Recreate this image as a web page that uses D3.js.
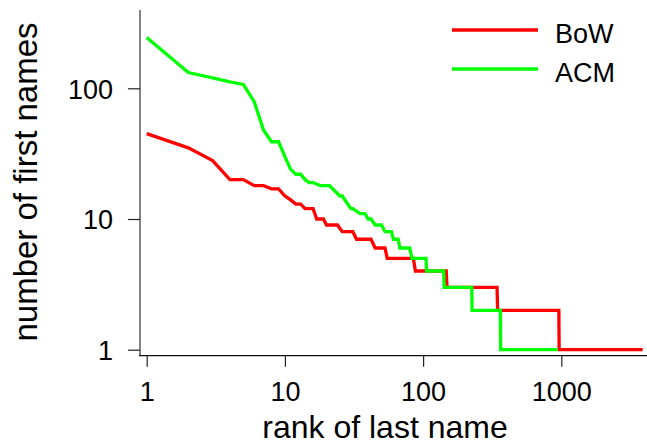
<!DOCTYPE html>
<html>
<head>
<meta charset="utf-8">
<script src="https://cdn.jsdelivr.net/npm/d3@7"></script>
<style>
  body { margin: 0; background: #fff; }
  svg { display: block; font-family: "Liberation Sans", Arial, sans-serif; }
</style>
</head>
<body>
<div id="chart"></div>
<script>
// rank / count vertices (each run of equal counts keeps its first and last rank)
const bowRank  = [1, 2, 3, 4, 5, 6, 7, 8, 9, 10, 11, 12, 13, 14, 16, 17, 19, 20, 24, 26, 31, 33, 42, 45, 53, 55, 85, 88, 147, 149, 343, 346, 960, 965, 3880];
const bowCount = [45, 35, 28, 20, 20, 18, 18, 17, 17, 15, 14, 13, 13, 12, 12, 10, 10, 9, 9, 8, 8, 7, 7, 6, 6, 5, 5, 4, 4, 3, 3, 2, 2, 1, 1];

const acmRank  = [1, 2, 3, 4, 5, 6, 7, 8, 9, 10, 11, 12, 13, 14, 15, 16, 18, 21, 25, 26, 30, 31, 35, 38, 40, 42, 45, 50, 53, 59, 61, 66, 68, 80, 83, 105, 106, 141, 142, 225, 226, 362, 364, 940];
const acmCount = [245, 132, 120, 112, 107, 79, 48, 39, 39, 30, 24, 22, 22, 20, 19, 19, 18, 18, 15, 15, 12, 12, 11, 11, 10, 10, 9, 9, 8, 8, 7, 7, 6, 6, 5, 5, 4, 4, 3, 3, 2, 2, 1, 1];

const seriesNames  = ['BoW', 'ACM'];
const seriesColors = ['#ff0000', '#00ff00'];

const xTicks = [1, 10, 100, 1000];
const yTicks = [1, 10, 100];

const W = 647, H = 445;

const svg = d3.select('#chart')
    .append('svg')
    .attr('width', W)
    .attr('height', H);

// log scales, pixel positions taken from the tick marks
const x = d3.scaleLog().domain([1, 1000]).range([146.7, 561.3]);
const y = d3.scaleLog().domain([1, 100]).range([349.7, 88.3]);

// frame: left axis runs to the top, bottom axis runs to the right edge
const axisX0 = 140, axisY0 = 355.7;

svg.append('line')
    .attr('x1', axisX0).attr('x2', axisX0)
    .attr('y1', 10).attr('y2', axisY0)
    .attr('stroke', '#5a5a5a')
    .attr('stroke-width', 1.5);

svg.append('line')
    .attr('x1', axisX0 - 1).attr('x2', W)
    .attr('y1', axisY0).attr('y2', axisY0)
    .attr('stroke', '#111')
    .attr('stroke-width', 1.2);

const yAxis = svg.append('g')
    .attr('transform', `translate(${axisX0},0)`)
    .call(d3.axisLeft(y).tickValues(yTicks).tickFormat(d3.format('d')).tickSize(12).tickPadding(15));

const xAxis = svg.append('g')
    .attr('transform', `translate(0,${axisY0})`)
    .call(d3.axisBottom(x).tickValues(xTicks).tickFormat(d3.format('d')).tickSize(11).tickPadding(15));

[xAxis, yAxis].forEach(g => {
    g.select('.domain').remove();
    g.selectAll('.tick line').attr('stroke', '#222').attr('stroke-width', 1.2);
    g.selectAll('.tick text')
        .attr('fill', '#000')
        .style('font-size', '27px')
        .style('font-family', '"Liberation Sans", Arial, sans-serif');
});
yAxis.selectAll('.tick text').attr('dy', '0.36em');

// axis titles
svg.append('text')
    .attr('x', 385)
    .attr('y', 438)
    .attr('text-anchor', 'middle')
    .attr('font-size', 32)
    .text('rank of last name');

svg.append('text')
    .attr('transform', 'translate(37,182) rotate(-90)')
    .attr('text-anchor', 'middle')
    .attr('font-size', 33)
    .text('number of first names');

// series lines
const line = d3.line()
    .x(d => x(d[0]))
    .y(d => y(d[1]));

const series = [
    d3.zip(bowRank, bowCount),
    d3.zip(acmRank, acmCount)
];

svg.append('g')
    .selectAll('path')
    .data(series)
    .join('path')
    .attr('d', line)
    .attr('fill', 'none')
    .attr('stroke', (d, i) => seriesColors[i])
    .attr('stroke-width', 3.3)
    .attr('stroke-linejoin', 'miter')
    .attr('stroke-linecap', 'butt');

// legend
const legend = svg.append('g')
    .selectAll('g')
    .data(seriesNames)
    .join('g')
    .attr('transform', (d, i) => `translate(452,${30 + i * 39})`);

legend.append('line')
    .attr('x1', 0).attr('x2', 86)
    .attr('y1', 0).attr('y2', 0)
    .attr('stroke', (d, i) => seriesColors[i])
    .attr('stroke-width', 3.3);

legend.append('text')
    .attr('x', 103)
    .attr('y', 13)
    .attr('font-size', 27)
    .text(d => d);
</script>
</body>
</html>
